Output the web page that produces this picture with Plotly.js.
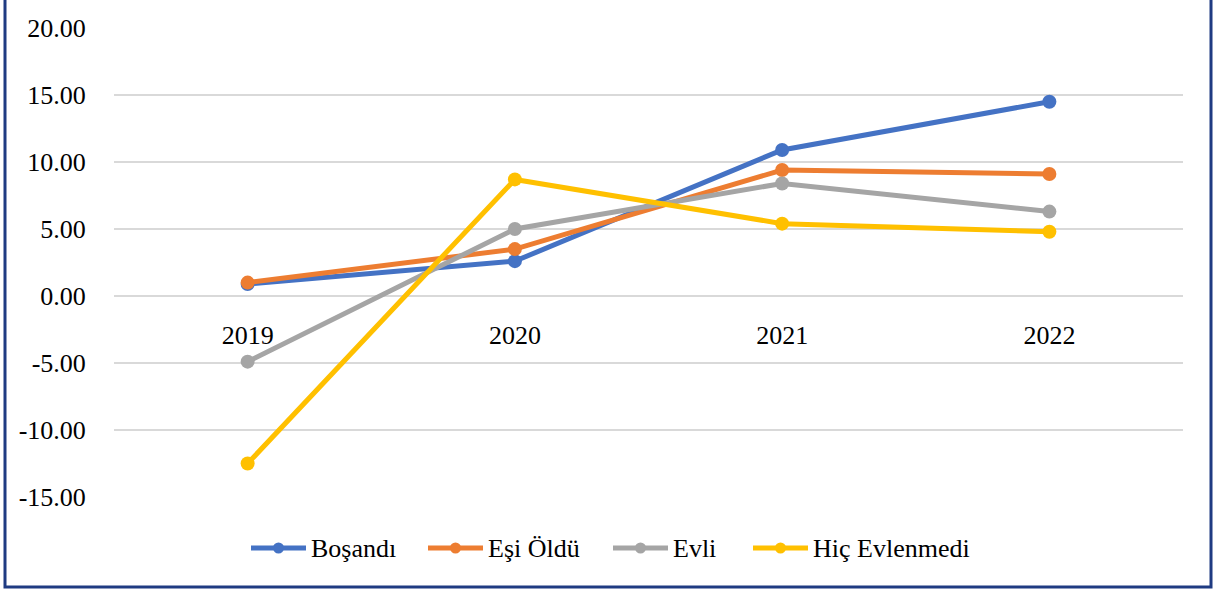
<!DOCTYPE html>
<html>
<head>
<meta charset="utf-8">
<script src="https://cdn.plot.ly/plotly-3.0.1.min.js"></script>
<style>html,body{margin:0;padding:0;background:#fff}#chart{width:1215px;height:590px}</style>
</head>
<body>
<div id="chart"></div>
<script>
const years = ['2019', '2020', '2021', '2022'];
const bosandi = [0.9, 2.6, 10.9, 14.5];
const esiOldu = [1.0, 3.5, 9.4, 9.1];
const evli = [-4.9, 5.0, 8.4, 6.3];
const hicEvlenmedi = [-12.5, 8.7, 5.4, 4.8];
const seriesNames = ['Boşandı', 'Eşi Öldü', 'Evli', 'Hiç Evlenmedi'];
const colors = ['#4472C4', '#ED7D31', '#A5A5A5', '#FFC000'];
const yTickVals = [20, 15, 10, 5, 0, -5, -10, -15];
const yTickText = ['20.00', '15.00', '10.00', '5.00', '0.00', '-5.00', '-10.00', '-15.00'];

const all = [bosandi, esiOldu, evli, hicEvlenmedi];
const traces = all.map((vals, i) => ({
  type: 'scatter', mode: 'lines+markers', x: years, y: vals, name: seriesNames[i],
  line: {color: colors[i], width: 5},
  marker: {color: colors[i], size: 14},
  showlegend: false
}));

const L = 114, R = 1183, T = 28, B = 497;
const W = R - L, H = B - T;
const px = x => (x - L) / W;
const py = y => (B - y) / H;

const FONT = 'Times New Roman, Times, Liberation Serif, Tinos, DejaVu Serif, serif';

// custom legend (Excel style: long line with a dot in the middle)
const legendStarts = [251, 428, 613, 753];
const legendY = 548, symLen = 55, dotR = 5.5;
const shapes = [{
  type: 'path', xref: 'paper', yref: 'paper',
  path: `M ${px(5)} ${py(-10)} L ${px(5)} ${py(587)} L ${px(1211)} ${py(587)} L ${px(1211)} ${py(-10)}`,
  line: {color: '#1F3B82', width: 3}
}];
const annotations = [];
seriesNames.forEach((name, i) => {
  const s = legendStarts[i];
  shapes.push({type: 'line', xref: 'paper', yref: 'paper',
    x0: px(s), x1: px(s + symLen), y0: py(legendY), y1: py(legendY),
    line: {color: colors[i], width: 5}});
  const c = s + symLen / 2;
  shapes.push({type: 'circle', xref: 'paper', yref: 'paper',
    x0: px(c - dotR), x1: px(c + dotR), y0: py(legendY + dotR), y1: py(legendY - dotR),
    fillcolor: colors[i], line: {width: 0}});
  annotations.push({xref: 'paper', yref: 'paper', x: px(s + symLen + 3), y: py(legendY),
    xanchor: 'left', yanchor: 'middle', showarrow: false, text: name,
    font: {family: FONT, size: 26, color: '#000'}});
});

const layout = {
  width: 1215, height: 590,
  margin: {l: L, r: 1215 - R, t: T, b: 590 - B, pad: 0},
  paper_bgcolor: '#fff', plot_bgcolor: '#fff',
  font: {family: FONT, size: 26, color: '#000'},
  showlegend: false,
  xaxis: {type: 'category', range: [-0.5, 3.5], showgrid: false, zeroline: false,
    showline: false, anchor: 'free', position: 15 / 35,
    tickfont: {family: FONT, size: 26},
    ticks: 'outside', ticklen: 16, tickcolor: 'rgba(0,0,0,0)', fixedrange: true},
  yaxis: {range: [-15, 20], tickvals: yTickVals, ticktext: yTickText,
    tickfont: {family: FONT, size: 26},
    showgrid: true, gridcolor: '#D9D9D9', gridwidth: 1.5, zeroline: false, showline: false,
    ticks: 'outside', ticklen: 22, tickcolor: 'rgba(0,0,0,0)', fixedrange: true},
  hovermode: false,
  shapes: shapes,
  annotations: annotations
};

Plotly.newPlot('chart', traces, layout, {displayModeBar: false, staticPlot: true});
</script>
</body>
</html>
